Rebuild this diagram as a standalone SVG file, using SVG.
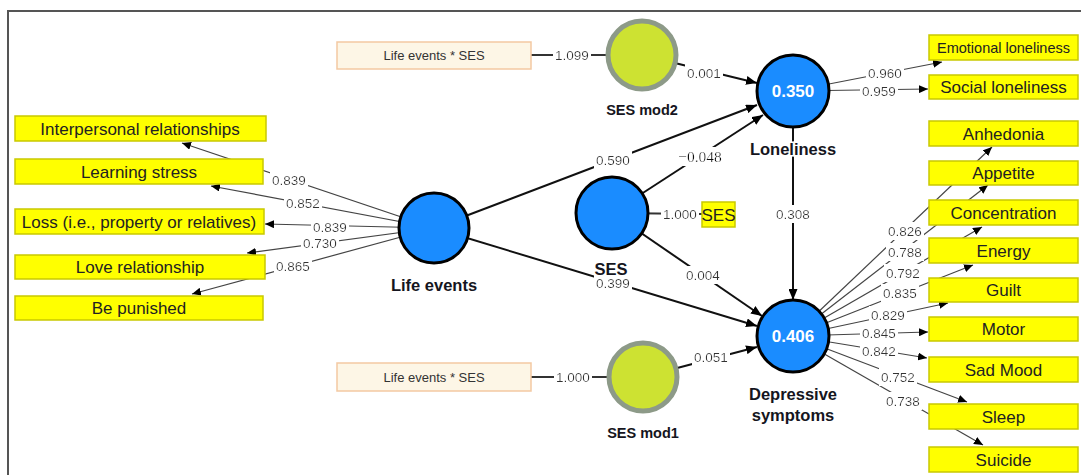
<svg xmlns="http://www.w3.org/2000/svg" width="1081" height="475" viewBox="0 0 1081 475">
<defs>
<style>
.frame{stroke:#555;stroke-width:2;fill:none}
.ind{fill:#ffff00;stroke:#c9c900;stroke-width:1.5}
.itxt{font-family:"Liberation Sans",Arial,sans-serif;font-size:17px;fill:#222;text-anchor:middle}
.cream{fill:#fdf6e6;stroke:#f3c9a2;stroke-width:1.5}
.ctxt{font-family:"Liberation Sans",Arial,sans-serif;font-size:13px;fill:#333;text-anchor:middle}
.lv{fill:#1a8cff;stroke:#000;stroke-width:3}
.mod{fill:#cde232;stroke:#8d9a88;stroke-width:5}
.lvin{font-family:"Liberation Sans",Arial,sans-serif;font-size:17px;font-weight:bold;fill:#fff;text-anchor:middle}
.lvl{font-family:"Liberation Sans",Arial,sans-serif;font-size:16.5px;font-weight:bold;fill:#151520;text-anchor:middle;paint-order:stroke;stroke:#fff;stroke-width:3}
.modl{font-family:"Liberation Sans",Arial,sans-serif;font-size:14.5px;font-weight:bold;fill:#151520;text-anchor:middle}
.path{stroke:#111;stroke-width:2;fill:none}
.thin{stroke:#444;stroke-width:1.2;fill:none}
.num{font-family:"Liberation Sans",Arial,sans-serif;font-size:13.5px;fill:#333;text-anchor:middle;filter:url(#bg)}
.ser{font-family:"Liberation Serif","Times New Roman",serif;font-size:15.5px;fill:#111;text-anchor:middle;filter:url(#bg)}
</style>
<filter id="bg" x="-0.04" y="-0.05" width="1.08" height="1.1"><feFlood flood-color="#fff"/><feMerge><feMergeNode/><feMergeNode in="SourceGraphic"/></feMerge></filter>
<marker id="ab" markerUnits="userSpaceOnUse" markerWidth="11" markerHeight="9" refX="11" refY="4.5" orient="auto"><path d="M0,0 L11,4.5 L0,9 z" fill="#000"/></marker>
<marker id="as" markerUnits="userSpaceOnUse" markerWidth="9" markerHeight="8" refX="9" refY="4" orient="auto"><path d="M0,0 L9,4 L0,8 z" fill="#000"/></marker>
</defs>
<rect width="1081" height="475" fill="#fff"/>
<path class="frame" d="M8,475 L8,11 L1081,11"/>

<g id="connectors">
<line class="thin" x1="434" y1="228" x2="182" y2="143" marker-end="url(#as)"/>
<line class="thin" x1="434" y1="228" x2="211" y2="186" marker-end="url(#as)"/>
<line class="thin" x1="434" y1="228" x2="265" y2="224" marker-end="url(#as)"/>
<line class="thin" x1="434" y1="228" x2="247" y2="253" marker-end="url(#as)"/>
<line class="thin" x1="434" y1="228" x2="192" y2="294" marker-end="url(#as)"/>
<line class="path" x1="531" y1="55" x2="642" y2="55" style="stroke:#333"/>
<line class="path" x1="531" y1="377" x2="643" y2="377" style="stroke:#333"/>
<line class="path" x1="612" y1="213" x2="702" y2="214" style="stroke:#333"/>
<line class="path" x1="642" y1="55" x2="757" y2="83" marker-end="url(#ab)"/>
<line class="path" x1="434" y1="228" x2="757" y2="105" marker-end="url(#ab)"/>
<line class="path" x1="612" y1="213" x2="763" y2="115" marker-end="url(#ab)"/>
<line class="path" x1="434" y1="228" x2="757" y2="326" marker-end="url(#ab)"/>
<line class="path" x1="612" y1="213" x2="762" y2="316" marker-end="url(#ab)"/>
<line class="path" x1="643" y1="377" x2="757" y2="347" marker-end="url(#ab)"/>
<line class="path" x1="793" y1="91" x2="793" y2="300" marker-end="url(#ab)"/>
<line class="thin" x1="793" y1="91" x2="942" y2="62" marker-end="url(#as)"/>
<line class="thin" x1="793" y1="91" x2="928" y2="89" marker-end="url(#as)"/>
<line class="thin" x1="793" y1="336" x2="992" y2="147" marker-end="url(#as)"/>
<line class="thin" x1="793" y1="336" x2="988" y2="185" marker-end="url(#as)"/>
<line class="thin" x1="793" y1="336" x2="982" y2="227" marker-end="url(#as)"/>
<line class="thin" x1="793" y1="336" x2="973" y2="265" marker-end="url(#as)"/>
<line class="thin" x1="793" y1="336" x2="948" y2="303" marker-end="url(#as)"/>
<line class="thin" x1="793" y1="336" x2="928" y2="332" marker-end="url(#as)"/>
<line class="thin" x1="793" y1="336" x2="927" y2="358" marker-end="url(#as)"/>
<line class="thin" x1="793" y1="336" x2="967" y2="402" marker-end="url(#as)"/>
<line class="thin" x1="793" y1="336" x2="983" y2="445" marker-end="url(#as)"/>
<text class="num" x="289" y="184.5">0.839</text>
<text class="num" x="303" y="207.5">0.852</text>
<text class="num" x="330" y="231.5">0.839</text>
<text class="num" x="320" y="247.5">0.730</text>
<text class="num" x="293" y="270.5">0.865</text>
<text class="num" x="572" y="59.5">1.099</text>
<text class="num" x="573" y="381.5">1.000</text>
<text class="num" x="680" y="218.5">1.000</text>
<text class="num" x="704" y="77.5">0.001</text>
<text class="num" x="613" y="164.5">0.590</text>
<text class="ser" x="700" y="162">−0.048</text>
<text class="num" x="703" y="279.5">0.004</text>
<text class="num" x="613" y="288">0.399</text>
<text class="num" x="711" y="361.5">0.051</text>
<text class="num" x="793" y="218.5">0.308</text>
<text class="num" x="885" y="77.5">0.960</text>
<text class="num" x="879" y="96">0.959</text>
<text class="num" x="905" y="235.5">0.826</text>
<text class="num" x="905" y="256.5">0.788</text>
<text class="num" x="903" y="277.5">0.792</text>
<text class="num" x="900" y="297.5">0.835</text>
<text class="num" x="888" y="319.5">0.829</text>
<text class="num" x="879" y="337.5">0.845</text>
<text class="num" x="879" y="355.5">0.842</text>
<text class="num" x="898" y="381.5">0.752</text>
<text class="num" x="903" y="405.5">0.738</text>
</g>

<g id="n-interpersonal"><rect class="ind" x="15" y="116" width="251" height="25"/><text class="itxt" x="140" y="134.5">Interpersonal relationships</text></g>
<g id="n-learning"><rect class="ind" x="15" y="159" width="248" height="25"/><text class="itxt" x="139" y="177.5">Learning stress</text></g>
<g id="n-loss"><rect class="ind" x="15" y="209" width="249" height="25"/><text class="itxt" x="139" y="227.5">Loss (i.e., property or relatives)</text></g>
<g id="n-love"><rect class="ind" x="15" y="255" width="250" height="24"/><text class="itxt" x="140" y="273">Love relationship</text></g>
<g id="n-punished"><rect class="ind" x="15" y="296" width="248" height="24"/><text class="itxt" x="139" y="314">Be punished</text></g>

<g id="n-lifeevents"><circle class="lv" cx="434" cy="228" r="35"/><text class="lvl" x="434" y="291">Life events</text></g>
<g id="n-ses"><circle class="lv" cx="612" cy="213" r="36"/><text class="lvl" x="611" y="275">SES</text></g>
<g id="n-ses-ind"><rect class="ind" x="702" y="202" width="33" height="25"/><text class="itxt" x="718.5" y="220.5">SES</text></g>

<g id="n-le-ses-top"><rect class="cream" x="337" y="42" width="194" height="27"/><text class="ctxt" x="434" y="60">Life events * SES</text></g>
<g id="n-le-ses-bottom"><rect class="cream" x="337" y="363" width="194" height="28"/><text class="ctxt" x="434" y="381.5">Life events * SES</text></g>

<g id="n-sesmod2"><circle class="mod" cx="642" cy="55" r="34"/><text class="modl" x="642" y="115">SES mod2</text></g>
<g id="n-sesmod1"><circle class="mod" cx="643" cy="377" r="34"/><text class="modl" x="643" y="438">SES mod1</text></g>

<g id="n-loneliness"><circle class="lv" cx="793" cy="91" r="36"/><text class="lvin" x="793" y="97">0.350</text><text class="lvl" x="793" y="155">Loneliness</text></g>
<g id="n-depressive"><circle class="lv" cx="793" cy="336" r="36"/><text class="lvin" x="793" y="342">0.406</text><text class="lvl" x="793" y="400">Depressive</text><text class="lvl" x="793" y="421">symptoms</text></g>

<g id="n-emotional"><rect class="ind" x="929" y="35" width="149" height="25"/><text class="itxt" x="1003.5" y="52.5" style="font-size:14.5px">Emotional loneliness</text></g>
<g id="n-social"><rect class="ind" x="929" y="75" width="149" height="24"/><text class="itxt" x="1003.5" y="93">Social loneliness</text></g>
<g id="n-anhedonia"><rect class="ind" x="929" y="121" width="149" height="25"/><text class="itxt" x="1003.5" y="139.5">Anhedonia</text></g>
<g id="n-appetite"><rect class="ind" x="929" y="161" width="149" height="24"/><text class="itxt" x="1003.5" y="179">Appetite</text></g>
<g id="n-concentration"><rect class="ind" x="929" y="200" width="149" height="25"/><text class="itxt" x="1003.5" y="218.5">Concentration</text></g>
<g id="n-energy"><rect class="ind" x="929" y="238" width="149" height="25"/><text class="itxt" x="1003.5" y="256.5">Energy</text></g>
<g id="n-guilt"><rect class="ind" x="929" y="278" width="149" height="24"/><text class="itxt" x="1003.5" y="296">Guilt</text></g>
<g id="n-motor"><rect class="ind" x="929" y="317" width="149" height="24"/><text class="itxt" x="1003.5" y="335">Motor</text></g>
<g id="n-sadmood"><rect class="ind" x="929" y="357" width="149" height="25"/><text class="itxt" x="1003.5" y="375.5">Sad Mood</text></g>
<g id="n-sleep"><rect class="ind" x="929" y="404" width="149" height="25"/><text class="itxt" x="1003.5" y="422.5">Sleep</text></g>
<g id="n-suicide"><rect class="ind" x="929" y="447" width="149" height="25"/><text class="itxt" x="1003.5" y="465.5">Suicide</text></g>
</svg>
